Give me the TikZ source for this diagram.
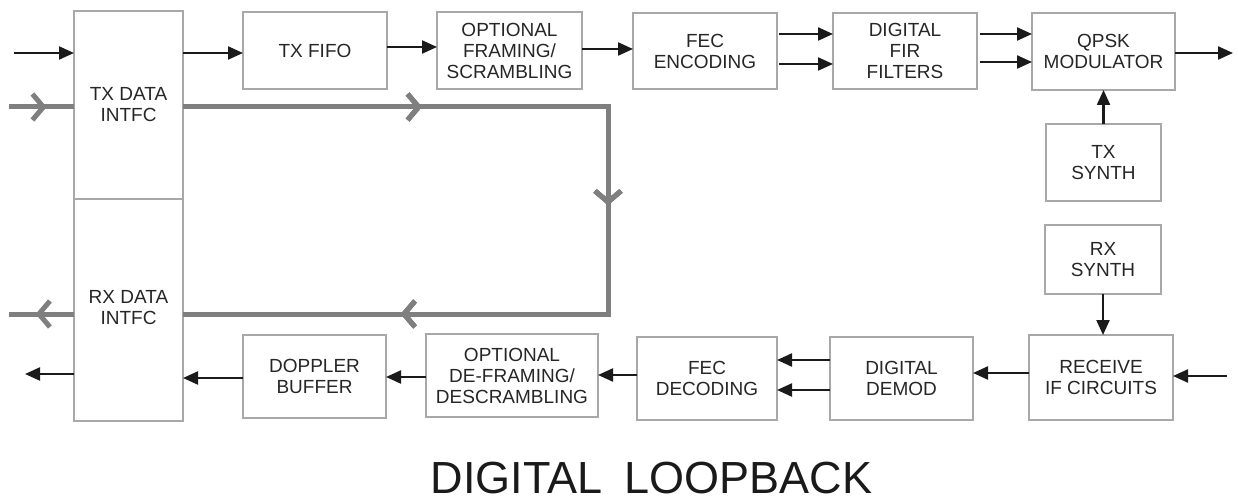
\documentclass[tikz,border=0pt]{standalone}
\usepackage{fontspec}
\setmainfont{Liberation Sans}
\usetikzlibrary{arrows.meta,decorations.markings,calc}
\definecolor{boxline}{HTML}{A8A8A8}
\definecolor{txtcol}{HTML}{262626}
\definecolor{arrcol}{HTML}{1A1A1A}
\definecolor{loopcol}{HTML}{7F7F7F}
\tikzset{
  blk/.style={draw=boxline, line width=1.4pt, rectangle, inner sep=0pt, outer sep=0pt,
    align=center, text=txtcol, font=\fontsize{19}{21}\selectfont},
  arr/.style={draw=arrcol, line width=2.2pt, -{Triangle[length=15pt,width=13pt]}},
  loopline/.style={draw=loopcol, line width=5pt},
  chev/.style={postaction={decorate}, decoration={markings,
    mark=at position #1 with {\arrow[loopcol]{Straight Barb[length=11pt,width=26pt,line width=5pt]}}}},
}
\begin{document}
\begin{tikzpicture}[x=1pt,y=-1pt]
\useasboundingbox (0,0) rectangle (1238,502);
% boxes
\node[blk, minimum width=109, minimum height=188] (txi) at (128.5,105) {TX DATA\\INTFC};
\node[blk, minimum width=109, minimum height=222] (rxi) at (128.5,310)
  {\raisebox{8pt}{\begin{tabular}{@{}c@{}}RX DATA\\INTFC\end{tabular}}};
\node[blk, minimum width=144, minimum height=77] (txfifo) at (315,50.5) {TX FIFO};
\node[blk, minimum width=145, minimum height=77] (ofr) at (509.5,50.5) {OPTIONAL\\FRAMING/\\SCRAMBLING};
\node[blk, minimum width=144, minimum height=76] (fecenc) at (705,51) {FEC\\ENCODING};
\node[blk, minimum width=144, minimum height=76] (dfir) at (905,51) {DIGITAL\\FIR\\FILTERS};
\node[blk, minimum width=143, minimum height=77] (qpsk) at (1103.5,51.5) {QPSK\\MODULATOR};
\node[blk, minimum width=115, minimum height=77] (txsyn) at (1103.5,162.5) {TX\\SYNTH};
\node[blk, minimum width=116, minimum height=69] (rxsyn) at (1103,259.5) {RX\\SYNTH};
\node[blk, minimum width=144, minimum height=85] (recv) at (1101,377.5) {RECEIVE\\IF CIRCUITS};
\node[blk, minimum width=143, minimum height=83] (demod) at (901.5,378.5) {DIGITAL\\DEMOD};
\node[blk, minimum width=140, minimum height=83] (fecdec) at (707,378.5) {FEC\\DECODING};
\node[blk, minimum width=172, minimum height=83] (odf) at (512,375.5) {OPTIONAL\\DE-FRAMING/\\DESCRAMBLING};
\node[blk, minimum width=143, minimum height=83] (doppler) at (314.5,376.5) {DOPPLER\\BUFFER};
% free ends
\coordinate (inTX) at (14,53);
\coordinate (outTX) at (1233,53);
\coordinate (inRX) at (1227,376);
\coordinate (outRX) at (25,374);
\coordinate (gin) at (9,107);
\coordinate (gc1) at (608,107);
\coordinate (gc2) at (608,314);
\coordinate (gout) at (9,314);
% gray loopback
\draw[loopline, chev=0.58] (gin) -- (gin -| txi.west);
\draw[loopline, line join=miter, chev=0.226, chev=0.495, chev=0.794]
  (gc1 -| txi.east) -- (gc1) -- (gc2) -- (gc2 -| rxi.east);
\draw[loopline, chev=0.59] (gout -| rxi.west) -- (gout);
% transmit chain
\draw[arr] (inTX) -- (inTX -| txi.west);
\draw[arr] (txi.east |- inTX) -- (txfifo.west |- inTX);
\draw[arr] (txfifo.east |- 0,47) -- (ofr.west |- 0,47);
\draw[arr] (ofr.east |- 0,49) -- (fecenc.west |- 0,49);
\draw[arr, shorten <=2pt] (fecenc.east |- 0,34) -- (dfir.west |- 0,34);
\draw[arr, shorten <=2pt] (fecenc.east |- 0,64) -- (dfir.west |- 0,64);
\draw[arr, shorten <=3pt] (dfir.east |- 0,34) -- (qpsk.west |- 0,34);
\draw[arr, shorten <=3pt] (dfir.east |- 0,62) -- (qpsk.west |- 0,62);
\draw[arr] (qpsk.east |- outTX) -- (outTX);
\draw[arr] (txsyn.north) -- (qpsk.south -| txsyn.north);
% receive chain
\draw[arr] (rxsyn.south) -- (recv.north -| rxsyn.south);
\draw[arr] (inRX) -- (recv.east |- inRX);
\draw[arr] (recv.west |- 0,373) -- (demod.east |- 0,373);
\draw[arr] (demod.west |- 0,360) -- (fecdec.east |- 0,360);
\draw[arr] (demod.west |- 0,390) -- (fecdec.east |- 0,390);
\draw[arr] (fecdec.west |- 0,375) -- (odf.east |- 0,375);
\draw[arr] (odf.west |- 0,377) -- (doppler.east |- 0,377);
\draw[arr] (doppler.west |- 0,378) -- (rxi.east |- 0,378);
\draw[arr] (rxi.west |- outRX) -- (outRX);
% title
\node[anchor=base, text=arrcol, font=\fontsize{45}{50}\selectfont, inner sep=0pt] (title)
  at (651.5,493) {DIGITAL\hspace{0.5em}LOOPBACK};
\end{tikzpicture}
\end{document}
